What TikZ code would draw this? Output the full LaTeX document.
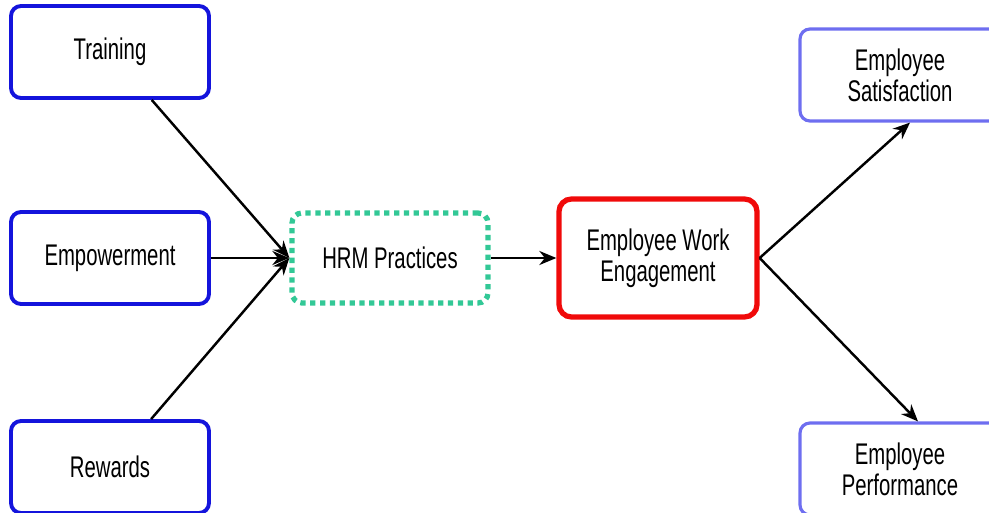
\documentclass[tikz,border=0pt]{standalone}
\usepackage{fontspec}
\setmainfont{Liberation Sans}[FakeStretch=0.68]
\usetikzlibrary{arrows.meta}

\definecolor{boxblue}{RGB}{20,20,220}
\definecolor{outblue}{RGB}{110,110,240}
\definecolor{hrmgreen}{RGB}{50,200,150}
\definecolor{ewered}{RGB}{240,10,10}

\begin{document}
\begin{tikzpicture}[
    every node/.style={font=\fontsize{17}{17.8}\selectfont, align=center},
    inbox/.style={draw=boxblue, line width=2.2pt, rounded corners=0.2cm, minimum width=3.96cm, minimum height=1.84cm},
    outbox/.style={draw=outblue, line width=1.8pt, rounded corners=0.2cm, minimum width=4.0cm, minimum height=1.84cm},
    arr/.style={line width=1.4pt, black, -{Stealth[length=0.34cm, width=0.28cm]}}
]
\useasboundingbox (0,0) rectangle (19.78,10.24);

\node[inbox] (train) at (2.2,9.2) {Training};
\node[inbox] (empow) at (2.2,5.08) {Empowerment};
\node[inbox] (reward) at (2.2,0.9) {Rewards};

\node[draw=hrmgreen, line width=3pt, dash pattern=on 3pt off 2.6pt, rounded corners=0.2cm,
      minimum width=3.92cm, minimum height=1.8cm] (hrm) at (7.8,5.08) {HRM Practices};

\node[draw=ewered, line width=3pt, rounded corners=0.25cm,
      minimum width=3.96cm, minimum height=2.36cm] (ewe) at (13.16,5.08) {Employee Work\\Engagement};

\node[outbox] (sat) at (18.0,8.74) {Employee\\Satisfaction};
\node[outbox] (perf) at (18.0,0.86) {Employee\\Performance};

\foreach \v in {train,empow,reward}
{
    \draw[arr] (\v) -- (hrm.west);
}

\draw[arr] (hrm) -- (ewe);
\draw[arr] (ewe.east) -- ([xshift=0.2cm]sat.south);
\draw[arr] (ewe.east) -- ([xshift=0.36cm]perf.north);

\end{tikzpicture}
\end{document}
